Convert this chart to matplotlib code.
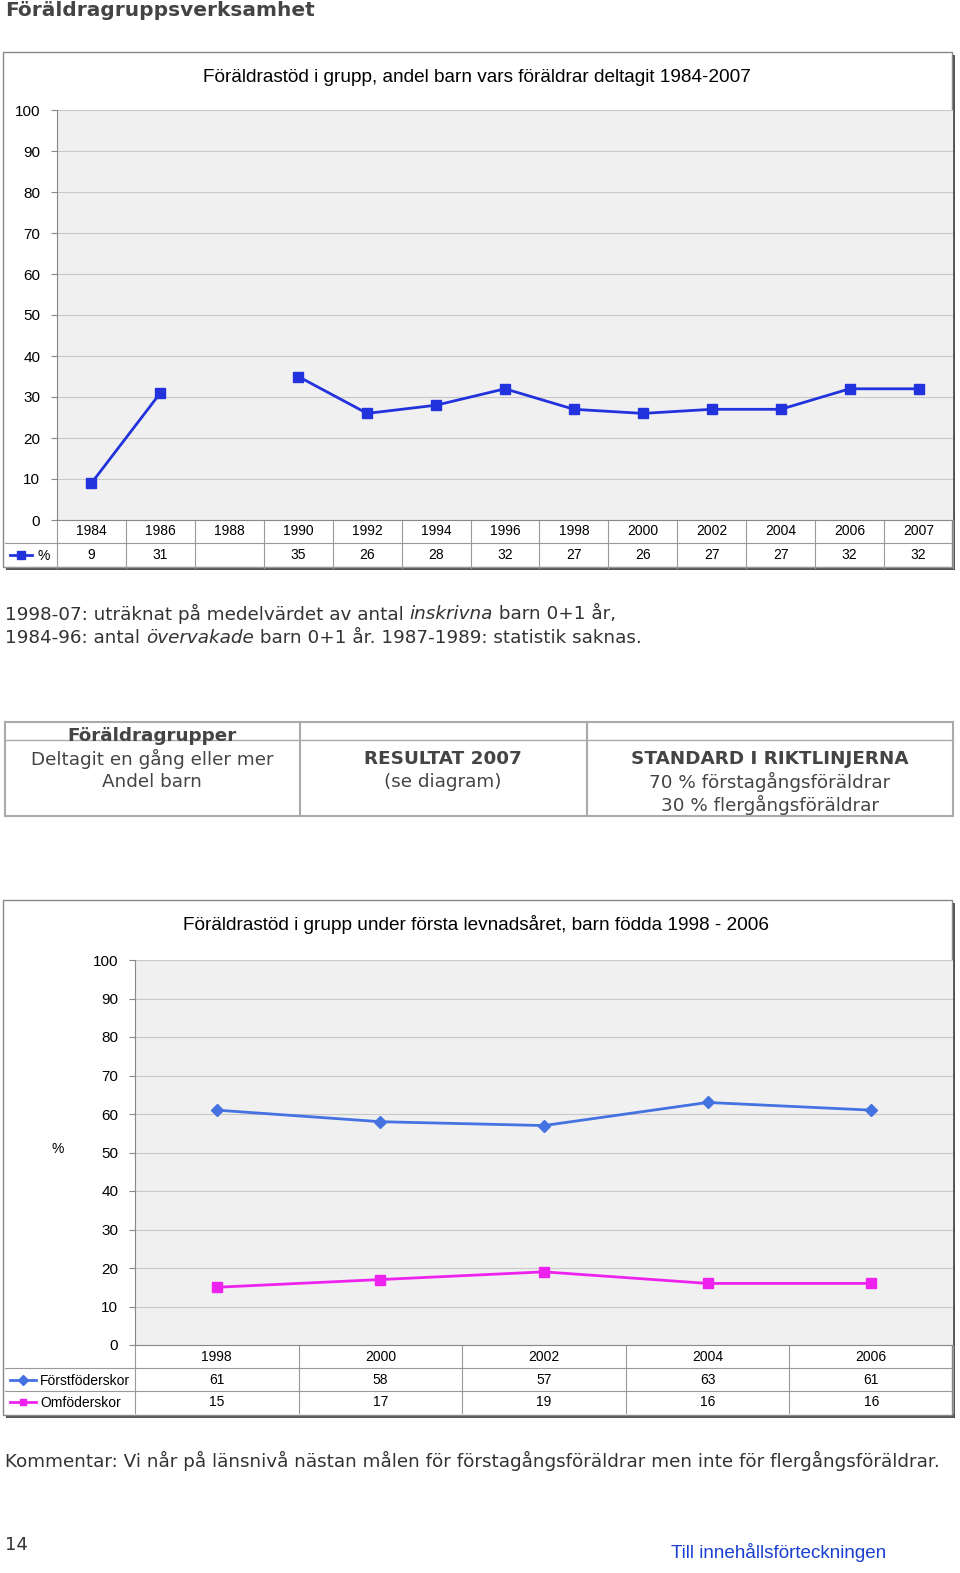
import matplotlib
matplotlib.use("Agg")
import matplotlib.pyplot as plt
from matplotlib.patches import Rectangle
import numpy as np

years1 = ["1984","1986","1988","1990","1992","1994","1996","1998","2000","2002","2004","2006","2007"]
vals1 = [9,31,None,35,26,28,32,27,26,27,27,32,32]
years2 = ["1998","2000","2002","2004","2006"]
forst = [61,58,57,63,61]
omf = [15,17,19,16,16]
yticks = [0,10,20,30,40,50,60,70,80,90,100]

W,H = 960,1573
fig = plt.figure(figsize=(9.6,15.73), dpi=100)
ov = fig.add_axes([0,0,1,1]); ov.set_xlim(0,W); ov.set_ylim(H,0); ov.axis("off")
AR = "Liberation Sans"; DV = "DejaVu Sans"
PS = 13.2

def frame(x0,y0,x1,y1):
    ov.add_patch(Rectangle((x0+3,y0+3),x1-x0,y1-y0,fc="#555",ec="none"))
    ov.add_patch(Rectangle((x0,y0),x1-x0,y1-y0,fc="white",ec="#888",lw=1))

def pax(x0,y0,x1,y1):
    return fig.add_axes([x0/W,1-y1/H,(x1-x0)/W,(y1-y0)/H])

ov.text(5,10,"Föräldragruppsverksamhet",fontfamily=DV,fontweight="bold",fontsize=14.5,color="#444",va="center")

# chart 1
frame(3,52,952,567)
ax = pax(57,110,953,520)
ax.set_facecolor("#f0f0f0")
ax.set_xlim(-0.5,12.5); ax.set_ylim(0,100)
ax.set_yticks(yticks); ax.set_xticks([])
ax.grid(axis="y",color="#c8c8c8",lw=0.8)
ax.tick_params(axis="y",length=4,labelsize=11,pad=8,color="#888")
for l in ax.get_yticklabels(): l.set_fontfamily(AR)
for s in ["top","right"]: ax.spines[s].set_visible(False)
for s in ["left","bottom"]: ax.spines[s].set_color("#888")
x1 = np.arange(len(years1))
y1 = np.array([np.nan if v is None else v for v in vals1],float)
ax.plot(x1,y1,color="#2233dd",lw=2,marker="s",ms=6.5)
tr = ax.get_xaxis_transform()
for i,(yr,v) in enumerate(zip(years1,vals1)):
    ax.text(i,-11/410,yr,transform=tr,ha="center",va="center",fontsize=10,fontfamily=AR,clip_on=False)
    if v is not None:
        ax.text(i,-35/410,str(v),transform=tr,ha="center",va="center",fontsize=10,fontfamily=AR,clip_on=False)
for i in range(len(years1)+1):
    ax.plot([i-0.5,i-0.5],[0,-48/410],transform=tr,color="#999",lw=0.8,clip_on=False)
ax.plot([-0.5,12.5],[-23/410]*2,transform=tr,color="#999",lw=0.8,clip_on=False)
ov.plot([5,57],[543,543],color="#999",lw=0.8); ov.plot([5,953],[567,567],color="#999",lw=0.8)
ov.plot([10,32],[555,555],color="#2233dd",lw=2); ov.plot([21],[555],"s",color="#2233dd",ms=6)
ov.text(38,556,"%",fontsize=10,fontfamily=AR,va="center",zorder=10)
ov.text(203,78,"Föräldrastöd i grupp, andel barn vars föräldrar deltagit 1984-2007",fontsize=13.7,fontfamily=AR,va="center")

def seq(x,y,parts):
    for s,st in parts:
        tt = ov.text(x,y,s,fontsize=PS,fontfamily=DV,va="center",color="#333",style=st)
        fig.canvas.draw()
        bb = tt.get_window_extent()
        x += bb.width
seq(5,614,[("1998-07: uträknat på medelvärdet av antal ","normal"),("inskrivna","italic"),(" barn 0+1 år,","normal")])
seq(5,638,[("1984-96: antal ","normal"),("övervakade","italic"),(" barn 0+1 år. 1987-1989: statistik saknas.","normal")])

# table
for yy in [722,740,816]:
    ov.plot([5,953],[yy,yy],color="#aaa",lw=1.5 if yy!=740 else 1)
for xx in [5,300,587,953]:
    ov.plot([xx,xx],[722,816],color="#aaa",lw=1.5)
kw = dict(fontsize=PS,fontfamily=DV,ha="center",va="center",color="#444")
ov.text(152,736,"Föräldragrupper",fontweight="bold",**kw)
ov.text(152,759,"Deltagit en gång eller mer",**kw)
ov.text(152,782,"Andel barn",**kw)
ov.text(443,759,"RESULTAT 2007",fontweight="bold",**kw)
ov.text(443,782,"(se diagram)",**kw)
ov.text(770,759,"STANDARD I RIKTLINJERNA",fontweight="bold",**kw)
ov.text(770,782,"70 % förstagångsföräldrar",**kw)
ov.text(770,805,"30 % flergångsföräldrar",**kw)

# chart 2
frame(3,900,952,1415)
ax2 = pax(135,960,953,1345)
ax2.set_facecolor("#f0f0f0")
ax2.set_xlim(-0.5,4.5); ax2.set_ylim(0,100)
ax2.set_yticks(yticks); ax2.set_xticks([])
ax2.grid(axis="y",color="#c8c8c8",lw=0.8)
ax2.tick_params(axis="y",length=4,labelsize=11,pad=8,color="#888")
for l in ax2.get_yticklabels(): l.set_fontfamily(AR)
for s in ["top","right"]: ax2.spines[s].set_visible(False)
for s in ["left","bottom"]: ax2.spines[s].set_color("#888")
x2 = np.arange(len(years2))
ax2.plot(x2,forst,color="#4472e0",lw=2,marker="D",ms=6)
ax2.plot(x2,omf,color="#ee22ee",lw=2,marker="s",ms=6.5)
tr2 = ax2.get_xaxis_transform()
for i in range(len(years2)):
    ax2.text(i,-12/385,years2[i],transform=tr2,ha="center",va="center",fontsize=10,fontfamily=AR,clip_on=False)
    ax2.text(i,-35/385,str(forst[i]),transform=tr2,ha="center",va="center",fontsize=10,fontfamily=AR,clip_on=False)
    ax2.text(i,-57/385,str(omf[i]),transform=tr2,ha="center",va="center",fontsize=10,fontfamily=AR,clip_on=False)
for i in range(len(years2)+1):
    ax2.plot([i-0.5,i-0.5],[0,-68/385],transform=tr2,color="#999",lw=0.8,clip_on=False)
for yy in [1368,1391]:
    ov.plot([5,953],[yy,yy],color="#999",lw=0.8)
ov.plot([10,36],[1380,1380],color="#4472e0",lw=2); ov.plot([23],[1380],"D",color="#4472e0",ms=5)
ov.plot([10,36],[1402,1402],color="#ee22ee",lw=2); ov.plot([23],[1402],"s",color="#ee22ee",ms=5)
ov.text(40,1381,"Förstföderskor",fontsize=10,fontfamily=AR,va="center")
ov.text(40,1403,"Omföderskor",fontsize=10,fontfamily=AR,va="center")
ov.text(52,1149,"%",fontsize=10,fontfamily=AR,va="center")
ov.text(183,925,"Föräldrastöd i grupp under första levnadsåret, barn födda 1998 - 2006",fontsize=13.7,fontfamily=AR,va="center")

ov.text(5,1461,"Kommentar: Vi når på länsnivå nästan målen för förstagångsföräldrar men inte för flergångsföräldrar.",fontsize=PS,fontfamily=DV,va="center",color="#333")
ov.text(5,1545,"14",fontsize=13,fontfamily=DV,va="center",color="#333")
ov.text(671,1553,"Till innehållsförteckningen",fontsize=13.6,fontfamily=AR,va="center",color="#1a3fd0")

fig.savefig("out.png",dpi=100)
